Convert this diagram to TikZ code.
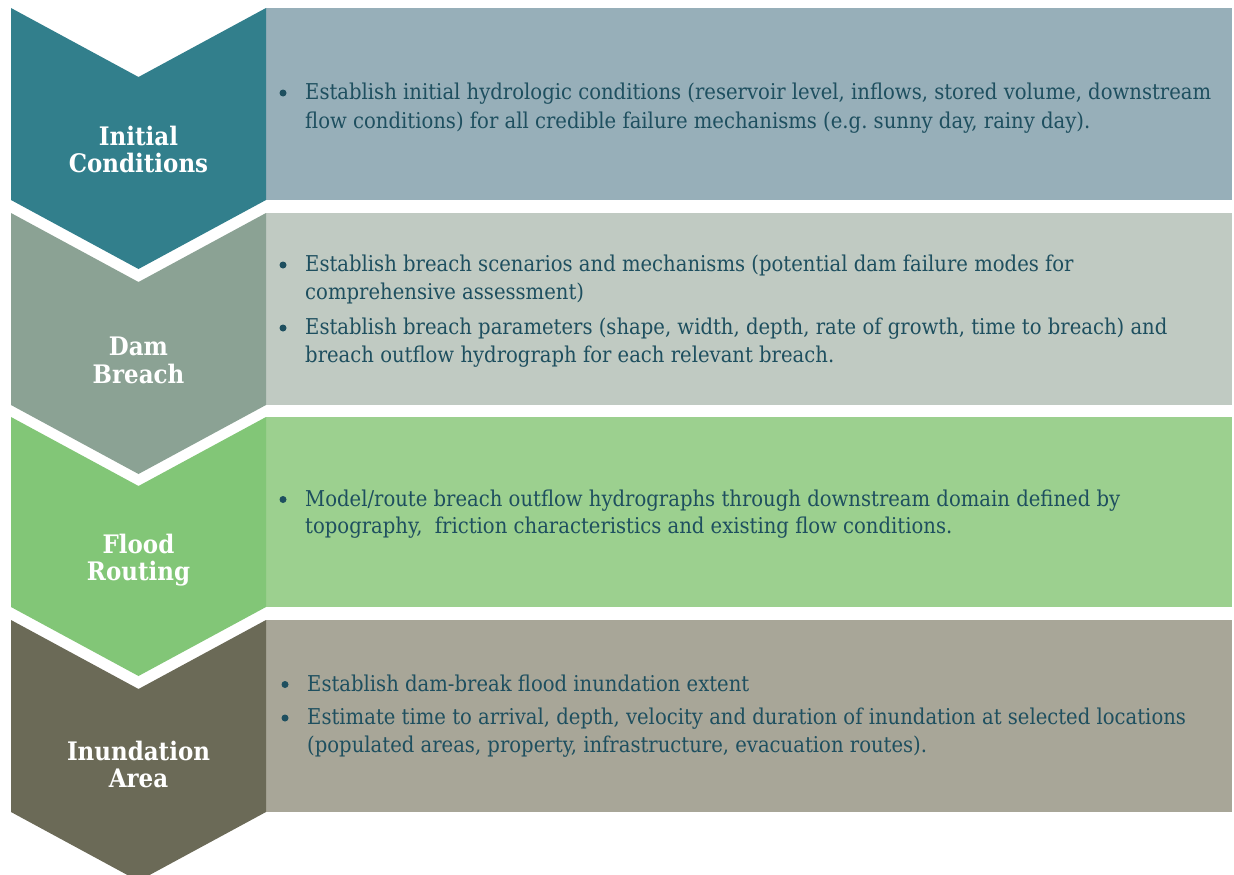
\documentclass[tikz,border=0pt]{standalone}
\usepackage{fontspec}
\setmainfont{DejaVu Serif Condensed}
\frenchspacing
\definecolor{cA}{HTML}{327F8C}
\definecolor{rA}{HTML}{97AFB9}
\definecolor{cB}{HTML}{8BA294}
\definecolor{rB}{HTML}{C0CAC2}
\definecolor{cC}{HTML}{82C677}
\definecolor{rC}{HTML}{9CD08F}
\definecolor{cD}{HTML}{6B6A57}
\definecolor{rD}{HTML}{A8A698}
\definecolor{txt}{HTML}{1E4F5F}
\tikzset{
  bodyline/.style={anchor=base west, inner sep=0pt, text=txt, font=\fontsize{21.8}{26}\selectfont},
  headline/.style={anchor=base, inner sep=0pt, text=white, font=\fontsize{25.5}{30}\selectfont\bfseries},
  bulletdot/.style={circle, fill=txt, inner sep=0pt, minimum size=7pt},
}
\begin{document}
\begin{tikzpicture}[x=1pt,y=-1pt]
\useasboundingbox (0,0) rectangle (1234,875);
\begin{scope}
\clip (0,0) rectangle (1234,875);
% row panels
\fill[rA] (266,8) rectangle (1232,200);
\fill[rB] (266,213) rectangle (1232,405);
\fill[rC] (266,417) rectangle (1232,607);
\fill[rD] (266,620) rectangle (1232,812);
% chevrons
\fill[cA] (11,8) -- (138.5,77) -- (266,8) -- (266,200) -- (138.5,269) -- (11,200) -- cycle;
\fill[cB] (11,213) -- (138.5,282) -- (266,213) -- (266,405) -- (138.5,474) -- (11,405) -- cycle;
\fill[cC] (11,417) -- (138.5,486) -- (266,417) -- (266,607) -- (138.5,676) -- (11,607) -- cycle;
\fill[cD] (11,620) -- (138.5,689) -- (266,620) -- (266,812) -- (138.5,881) -- (11,812) -- cycle;
\end{scope}
% headers
\node[headline] (h1a) at (138.5,145) {Initial};
\node[headline] (h1b) at (138.5,172) {Conditions};
\node[headline] (h2a) at (138.5,355) {Dam};
\node[headline] (h2b) at (138.5,383) {Breach};
\node[headline] (h3a) at (138.5,553) {Flood};
\node[headline] (h3b) at (138.5,580) {Routing};
\node[headline] (h4a) at (138.5,760) {Inundation};
\node[headline] (h4b) at (138.5,787) {Area};
% row 1
\node[bulletdot] (b1) at (283,93) {};
\node[bodyline] (t1a) at (305,99.5) {Establish initial hydrologic conditions (reservoir level, inflows, stored volume, downstream};
\node[bodyline] (t1b) at (305,128.5) {flow conditions) for all credible failure mechanisms (e.g. sunny day, rainy day).};
% row 2
\node[bulletdot] (b2) at (283,265) {};
\node[bodyline] (t2a) at (305,271.5) {Establish breach scenarios and mechanisms (potential dam failure modes for};
\node[bodyline] (t2b) at (305,299) {comprehensive assessment)};
\node[bulletdot] (b3) at (283,328) {};
\node[bodyline] (t2c) at (305,334.5) {Establish breach parameters (shape, width, depth, rate of growth, time to breach) and};
\node[bodyline] (t2d) at (305,362) {breach outflow hydrograph for each relevant breach.};
% row 3
\node[bulletdot] (b4) at (283,499.5) {};
\node[bodyline] (t3a) at (305,506) {Model/route breach outflow hydrographs through downstream domain defined by};
\node[bodyline] (t3b) at (305,533.5) {topography,\ \ friction characteristics and existing flow conditions.};
% row 4
\node[bulletdot] (b5) at (285,684.5) {};
\node[bodyline] (t4a) at (307,691) {Establish dam-break flood inundation extent};
\node[bulletdot] (b6) at (285,718) {};
\node[bodyline] (t4b) at (307,724.5) {Estimate time to arrival, depth, velocity and duration of inundation at selected locations};
\node[bodyline] (t4c) at (307,752.5) {(populated areas, property, infrastructure, evacuation routes).};
\end{tikzpicture}
\end{document}
